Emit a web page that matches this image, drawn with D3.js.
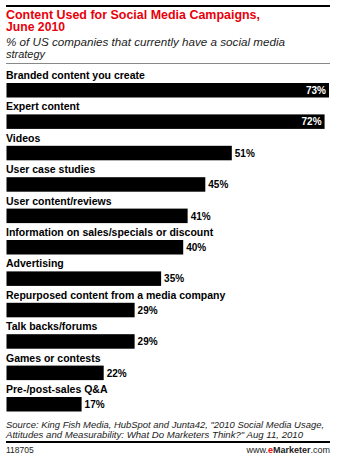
<!DOCTYPE html>
<html>
<head>
<meta charset="utf-8">
<script src="https://cdn.jsdelivr.net/npm/d3@7"></script>
<style>
  html, body { margin: 0; padding: 0; background: #fff; }
  svg { display: block; }
  text { font-family: "Liberation Sans", Arial, sans-serif; }
</style>
</head>
<body>
<svg id="chart" width="337" height="455"></svg>
<script>
// Content types used in social media campaigns, % of US companies
const categories = [
  "Branded content you create",
  "Expert content",
  "Videos",
  "User case studies",
  "User content/reviews",
  "Information on sales/specials or discount",
  "Advertising",
  "Repurposed content from a media company",
  "Talk backs/forums",
  "Games or contests",
  "Pre-/post-sales Q&A"
];
const values = [73, 72, 51, 45, 41, 40, 35, 29, 29, 22, 17];

const titleLines = ["Content Used for Social Media Campaigns,", "June 2010"];
const subtitleLines = ["% of US companies that currently have a social media", "strategy"];
const sourceLines = [
  "Source: King Fish Media, HubSpot and Junta42, \"2010 Social Media Usage,",
  "Attitudes and Measurability: What Do Marketers Think?\" Aug 11, 2010"
];
const chartId = "118705";

const svg = d3.select("#chart");
const left = 6, right = 330;

// fit a text element to a given width
function fit(sel, w) {
  sel.attr("textLength", w).attr("lengthAdjust", "spacingAndGlyphs");
}

// header rule
svg.append("rect").attr("x", left).attr("y", 5).attr("width", right - left).attr("height", 2).attr("fill", "#000");

// title
const titleWidths = [254, 59];
titleLines.forEach((t, i) => {
  svg.append("text").attr("x", left).attr("y", 18.5 + i * 12.5)
    .attr("font-size", 12.5).attr("font-weight", "bold").attr("fill", "#e8000b")
    .text(t).call(fit, titleWidths[i]);
});

// subtitle
const subWidths = [279, 39];
subtitleLines.forEach((t, i) => {
  svg.append("text").attr("x", left).attr("y", 46 + i * 11.5)
    .attr("font-size", 11).attr("font-style", "italic").attr("fill", "#222")
    .text(t).call(fit, subWidths[i]);
});

svg.append("rect").attr("x", left).attr("y", 63).attr("width", right - left).attr("height", 1).attr("fill", "#888");

// scales
const x = d3.scaleLinear().domain([0, 73]).range([6.5, 329]);
const y = d3.scaleBand().domain(categories).range([68, 68 + 31.4 * categories.length]).paddingInner(0);

const rows = svg.append("g").selectAll("g").data(categories).join("g")
  .attr("transform", d => `translate(0,${y(d)})`);

rows.append("text")
  .attr("x", left).attr("y", 11)
  .attr("font-size", 10.5).attr("font-weight", "bold").attr("fill", "#000")
  .text(d => d);

rows.append("rect")
  .attr("x", x(0)).attr("y", 15)
  .attr("width", (d, i) => x(values[i]) - x(0))
  .attr("height", 14.5)
  .attr("fill", "#000");

rows.append("text")
  .attr("x", (d, i) => values[i] >= 60 ? x(values[i]) - 3 : x(values[i]) + 3)
  .attr("y", 26)
  .attr("text-anchor", (d, i) => values[i] >= 60 ? "end" : "start")
  .attr("font-size", 10).attr("font-weight", "bold")
  .attr("fill", (d, i) => values[i] >= 60 ? "#fff" : "#000")
  .text((d, i) => values[i] + "%");

// source
const srcWidths = [318, 297];
sourceLines.forEach((t, i) => {
  svg.append("text").attr("x", left).attr("y", 427.5 + i * 10)
    .attr("font-size", 9.5).attr("font-style", "italic").attr("fill", "#222")
    .text(t).call(fit, srcWidths[i]);
});

svg.append("rect").attr("x", left).attr("y", 441).attr("width", right - left).attr("height", 2).attr("fill", "#000");

svg.append("text").attr("x", left).attr("y", 453)
  .attr("font-size", 8.5).attr("fill", "#222").text(chartId);

const brand = svg.append("text").attr("x", right).attr("y", 453)
  .attr("text-anchor", "end").attr("font-size", 9).attr("fill", "#222");
brand.append("tspan").text("www.");
brand.append("tspan").attr("fill", "#e8000b").attr("font-weight", "bold").text("e");
brand.append("tspan").attr("font-weight", "bold").text("Marketer");
brand.append("tspan").text(".com");
</script>
</body>
</html>
